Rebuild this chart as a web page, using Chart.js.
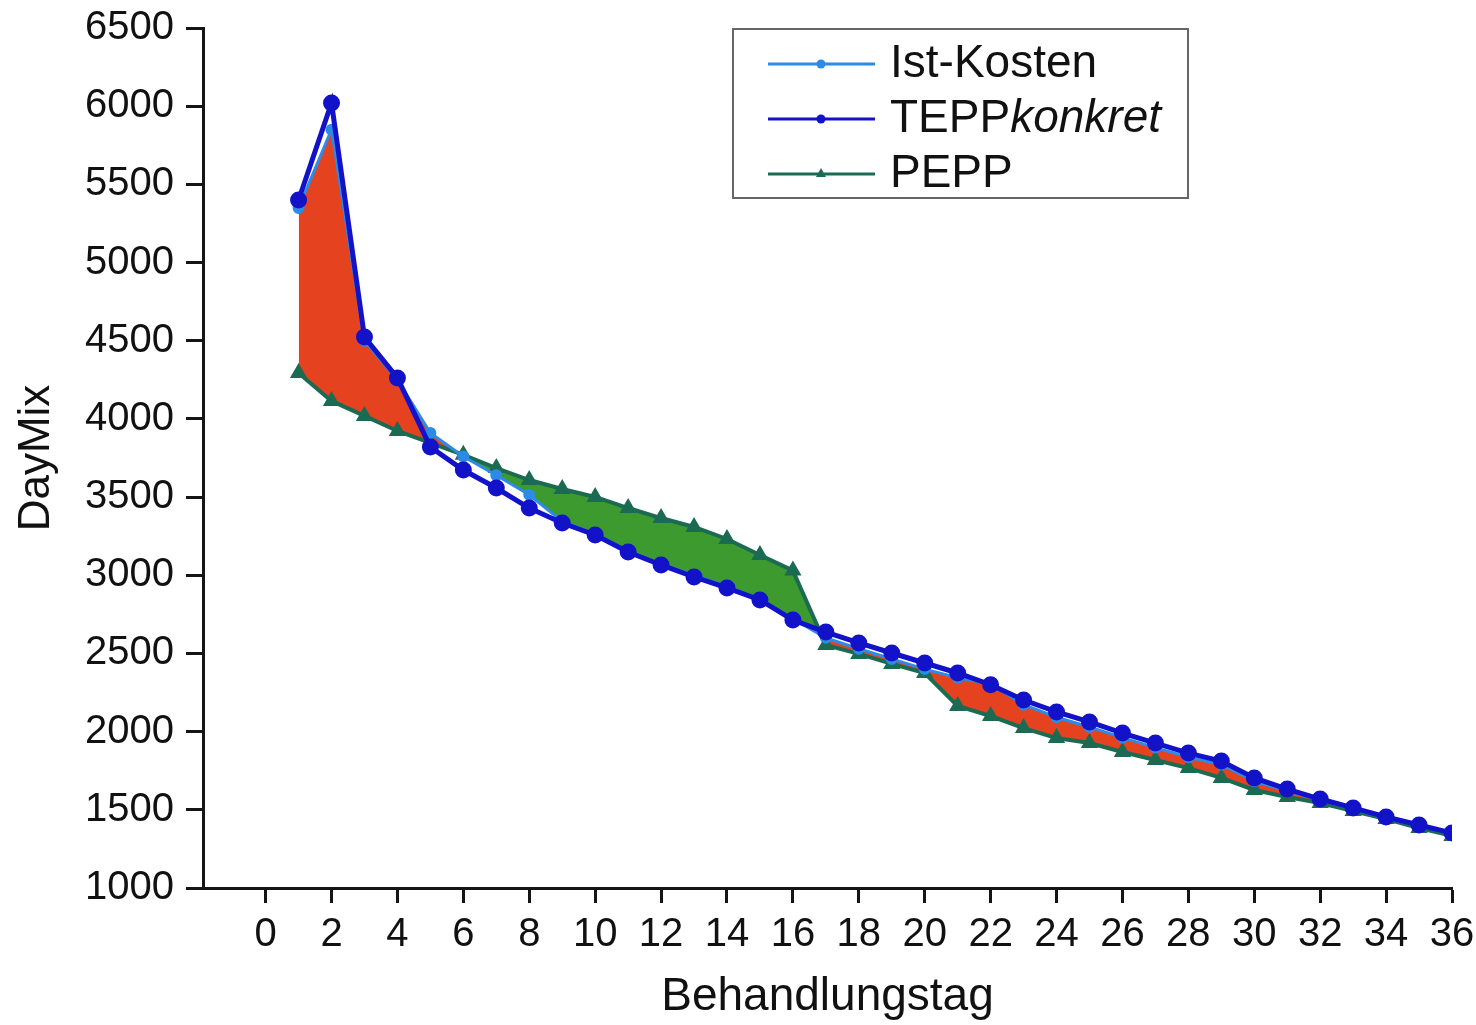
<!DOCTYPE html>
<html lang="de">
<head>
<meta charset="utf-8">
<title>DayMix je Behandlungstag</title>
<script src="https://cdn.jsdelivr.net/npm/chart.js@4.4.1/dist/chart.umd.min.js"></script>
<style>
  html, body { margin: 0; padding: 0; background: #fff; }
  #chart { display: block; }
</style>
</head>
<body>
<canvas id="chart" width="1476" height="1025"></canvas>
<script>
// Behandlungstag 1..36
const days = [1, 2, 3, 4, 5, 6, 7, 8, 9, 10, 11, 12, 13, 14, 15, 16, 17, 18,
  19, 20, 21, 22, 23, 24, 25, 26, 27, 28, 29, 30, 31, 32, 33, 34, 35, 36];

const istKosten = [5349, 5850, 4500, 4250, 3910, 3760, 3640, 3515, 3345, 3265, 3158, 3072, 3000, 2928, 2848, 2722,
  2600, 2530, 2465, 2400, 2345, 2305, 2172, 2092, 2030, 1962, 1898, 1836, 1790, 1682, 1622, 1562, 1505, 1448, 1398, 1345];

const teppKonkret = [5400, 6020, 4524, 4262, 3820, 3673, 3558, 3430, 3334, 3258, 3149, 3066, 2989, 2919, 2842, 2714,
  2637, 2567, 2503, 2439, 2375, 2300, 2202, 2126, 2062, 1991, 1927, 1863, 1812, 1704, 1633, 1569, 1512, 1454, 1403, 1352];

const pepp = [4294, 4115, 4019, 3923, 3846, 3770, 3686, 3609, 3552, 3501, 3430, 3366, 3309, 3232, 3130, 3030,
  2554, 2497, 2433, 2375, 2164, 2100, 2023, 1959, 1927, 1870, 1819, 1767, 1704, 1627, 1582, 1544, 1492, 1441, 1384, 1333];

const seriesNames = ['Ist-Kosten', 'TEPPkonkret', 'PEPP'];
const xTickValues = [0, 2, 4, 6, 8, 10, 12, 14, 16, 18, 20, 22, 24, 26, 28, 30, 32, 34, 36];
const yTickValues = [1000, 1500, 2000, 2500, 3000, 3500, 4000, 4500, 5000, 5500, 6000, 6500];

const COLORS = {
  ist: '#2b8be6',
  tepp: '#1212c8',
  pepp: '#1b6b52',
  above: '#e5431f',
  below: '#3c9a2e',
  axis: '#151515'
};

const FONT = 'Arial, "Liberation Sans", Helvetica, sans-serif';

const toPoints = values => values.map((v, i) => ({ x: days[i], y: v }));

/**
 * Legend box drawn by hand, so "konkret" can be set in italics
 */
const legendBox = {
  id: 'legendBox',
  afterDraw(chart) {
    const ctx = chart.ctx;
    const box = { x: 733, y: 29, w: 455, h: 169 };
    ctx.save();
    ctx.fillStyle = '#fff';
    ctx.fillRect(box.x, box.y, box.w, box.h);
    ctx.strokeStyle = '#666';
    ctx.lineWidth = 2;
    ctx.strokeRect(box.x, box.y, box.w, box.h);

    chart.data.datasets.forEach((ds, i) => {
      const cy = box.y + 35 + i * 55;
      ctx.strokeStyle = ds.borderColor;
      ctx.lineWidth = 3;
      ctx.beginPath();
      ctx.moveTo(box.x + 35, cy);
      ctx.lineTo(box.x + 142, cy);
      ctx.stroke();

      ctx.fillStyle = ds.borderColor;
      ctx.beginPath();
      if (ds.pointStyle === 'triangle') {
        ctx.moveTo(box.x + 88, cy - 6);
        ctx.lineTo(box.x + 93, cy + 3);
        ctx.lineTo(box.x + 83, cy + 3);
        ctx.closePath();
      } else {
        ctx.arc(box.x + 88, cy, 4.5, 0, Math.PI * 2);
      }
      ctx.fill();

      ctx.fillStyle = '#111';
      ctx.textBaseline = 'middle';
      ctx.textAlign = 'left';
      const name = ds.label;
      const tx = box.x + 157;
      if (name === 'TEPPkonkret') {
        ctx.font = '46px ' + FONT;
        ctx.fillText('TEPP', tx, cy);
        const w = ctx.measureText('TEPP').width;
        ctx.font = 'italic 46px ' + FONT;
        ctx.fillText('konkret', tx + w, cy);
      } else {
        ctx.font = '46px ' + FONT;
        ctx.fillText(name, tx, cy);
      }
    });
    ctx.restore();
  }
};

const ctx = document.getElementById('chart');

new Chart(ctx, {
  type: 'line',
  data: {
    datasets: [
      {
        label: seriesNames[0],
        data: toPoints(istKosten),
        borderColor: COLORS.ist,
        backgroundColor: COLORS.ist,
        borderWidth: 3,
        pointRadius: 4.5,
        pointStyle: 'circle',
        pointBackgroundColor: COLORS.ist,
        pointBorderColor: COLORS.ist,
        tension: 0,
        order: 1,
        fill: { target: 2, above: COLORS.above, below: COLORS.below }
      },
      {
        label: seriesNames[1],
        data: toPoints(teppKonkret),
        borderColor: COLORS.tepp,
        backgroundColor: COLORS.tepp,
        borderWidth: 5,
        pointRadius: 6,
        pointStyle: 'circle',
        pointBackgroundColor: COLORS.tepp,
        pointBorderColor: COLORS.tepp,
        tension: 0,
        order: 0,
        fill: false
      },
      {
        label: seriesNames[2],
        data: toPoints(pepp),
        borderColor: COLORS.pepp,
        backgroundColor: COLORS.pepp,
        borderWidth: 4,
        pointRadius: 6,
        pointStyle: 'triangle',
        pointBackgroundColor: COLORS.pepp,
        pointBorderColor: COLORS.pepp,
        tension: 0,
        order: 2,
        fill: false
      }
    ]
  },
  options: {
    responsive: false,
    animation: false,
    layout: {
      padding: { left: 0, top: 28, right: 24, bottom: 0 }
    },
    plugins: {
      legend: { display: false },
      tooltip: { enabled: false },
      filler: { drawTime: 'beforeDatasetsDraw' }
    },
    scales: {
      x: {
        type: 'linear',
        min: -1.9,
        max: 36,
        afterBuildTicks: scale => {
          scale.ticks = xTickValues.map(v => ({ value: v }));
        },
        afterFit: scale => {
          scale.height = 137;
          scale.paddingLeft = 0;
          scale.paddingRight = 0;
        },
        border: { display: true, color: COLORS.axis, width: 3 },
        grid: {
          drawOnChartArea: false,
          drawTicks: true,
          tickLength: 15,
          tickWidth: 3,
          tickColor: COLORS.axis
        },
        ticks: {
          color: '#111',
          padding: 8,
          maxRotation: 0,
          autoSkip: false,
          font: { family: FONT, size: 40 },
          callback: value => String(value)
        },
        title: {
          display: true,
          text: 'Behandlungstag',
          color: '#111',
          padding: { top: 0, bottom: 0 },
          font: { family: FONT, size: 46 }
        }
      },
      y: {
        type: 'linear',
        min: 1000,
        max: 6500,
        afterBuildTicks: scale => {
          scale.ticks = yTickValues.map(v => ({ value: v }));
        },
        afterFit: scale => {
          scale.width = 203;
          scale.paddingTop = 0;
          scale.paddingBottom = 0;
        },
        border: { display: true, color: COLORS.axis, width: 3 },
        grid: {
          drawOnChartArea: false,
          drawTicks: true,
          tickLength: 17,
          tickWidth: 3,
          tickColor: COLORS.axis
        },
        ticks: {
          color: '#111',
          padding: 12,
          autoSkip: false,
          font: { family: FONT, size: 40 },
          callback: value => String(value)
        },
        title: {
          display: true,
          text: 'DayMix',
          color: '#111',
          padding: { top: 10, bottom: 0 },
          font: { family: FONT, size: 44 }
        }
      }
    }
  },
  plugins: [legendBox]
});
</script>
</body>
</html>
